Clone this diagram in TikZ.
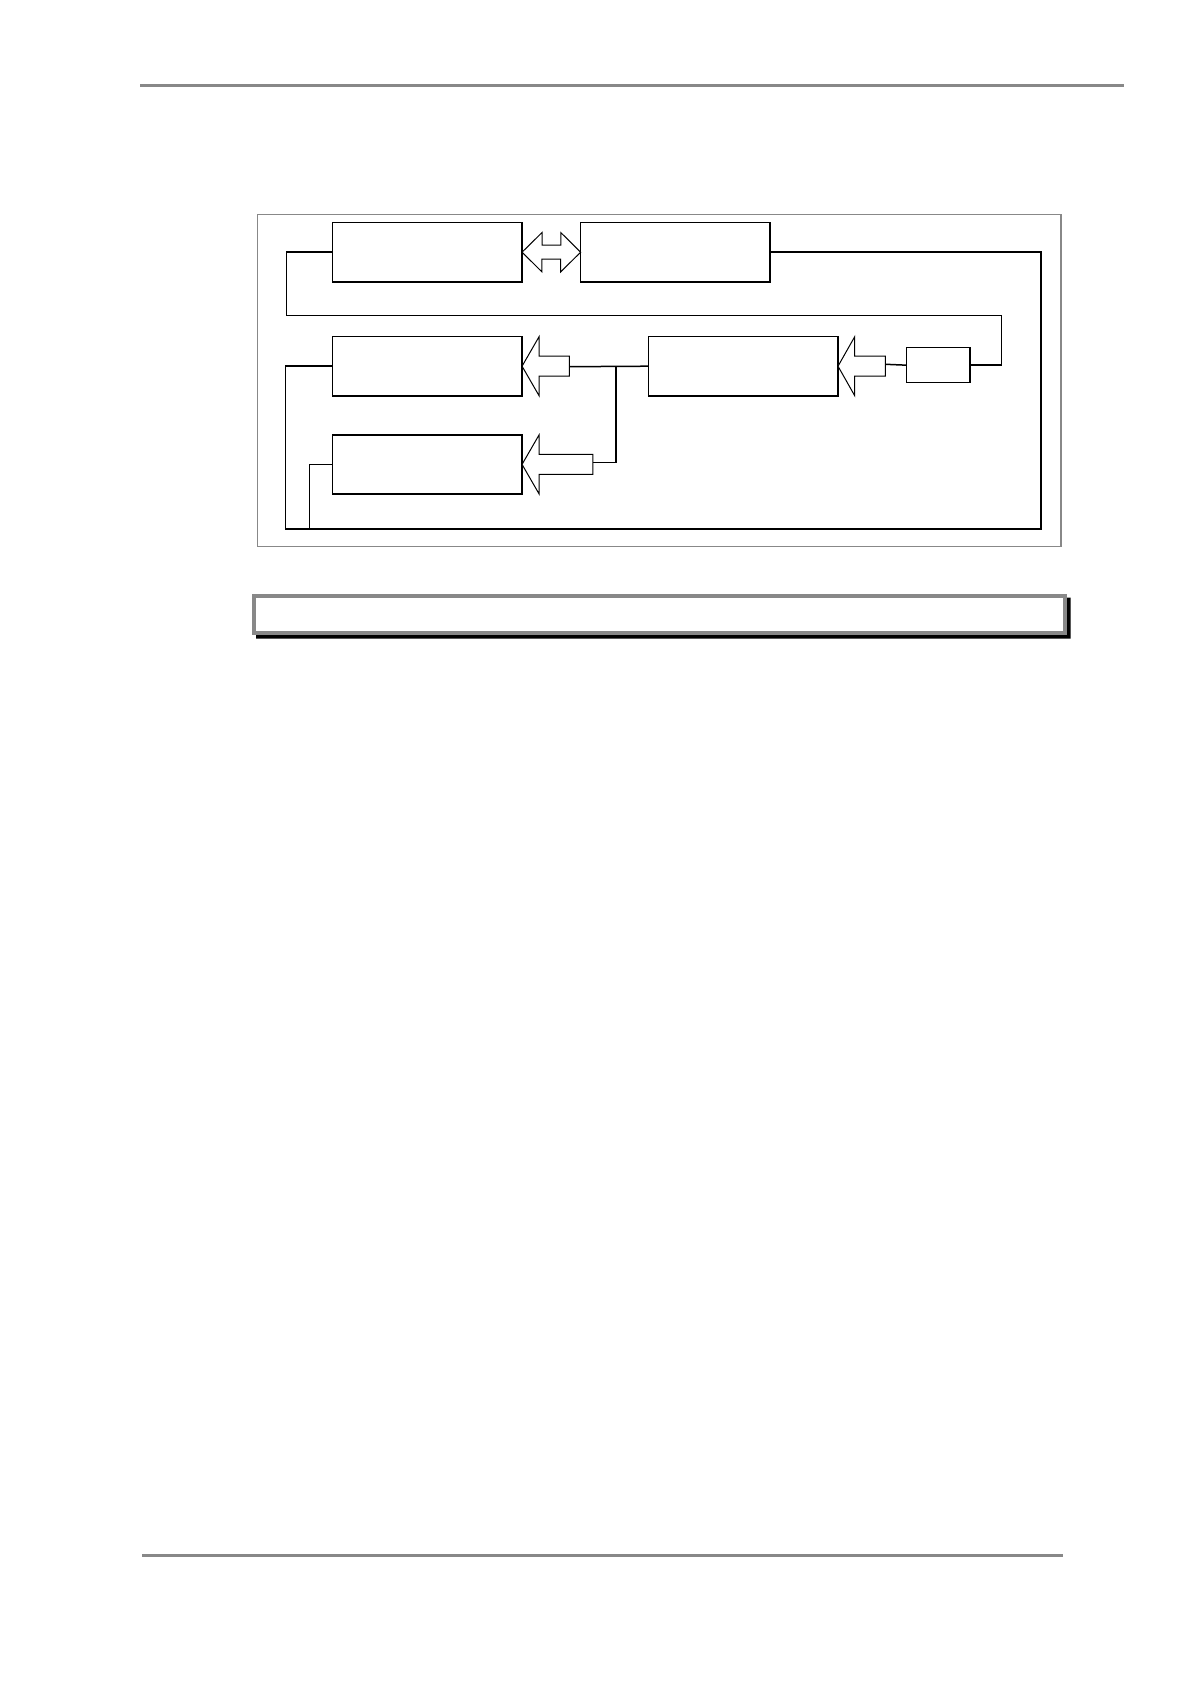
\documentclass[tikz,border=0pt]{standalone}
\usetikzlibrary{calc}
\definecolor{frameg}{HTML}{888888}
\begin{document}
\begin{tikzpicture}[x=0.5pt,y=-0.5pt,
  blk/.style={draw=black,line width=0.75pt,fill=white,inner sep=0pt,outer sep=0pt,
    minimum width=94.7pt,minimum height=29.6pt},
  smallblk/.style={blk,minimum width=31.7pt,minimum height=17.5pt},
  wire/.style={draw=black,line width=0.75pt},
  barrow/.style={draw=black,line width=0.5pt,fill=white,line join=miter},
  rule/.style={draw=frameg,line width=1.5pt}]
\useasboundingbox (0,0) rectangle (1191,1684);
% page rules
\draw[rule] (140,85.5) -- (1124,85.5);
\draw[rule] (142,1555.5) -- (1062.7,1555.5);
% outer frame
\draw[draw=frameg,line width=0.6pt] (257.3,214.7) rectangle (1061,546.7);
% blocks
\node[blk] (A) at (427.35,252.2) {};
\node[blk] (B) at (675.35,252.2) {};
\node[blk] (C) at (427.35,366.2) {};
\node[blk] (D) at (743.3,366.2) {};
\node[blk] (E) at (427.35,464.4) {};
\node[smallblk] (F) at (938.35,365.2) {};
% wires
\draw[wire] (A.west) -| (286.7,315.7) -- (1001.7,315.7) |- (F.east);
\draw[wire] (B.east) -| (1041,529) -- (285.7,529) |- (C.west);
\draw[wire] (E.west) -| (309.3,529);
\coordinate (J) at (616,366.7);
\draw[wire] (D.west) -- (569.3,366.7);
\draw[wire] (J) |- (592.7,462.7);
\draw[wire] (F.west) -- (885.7,364.3);
% block arrows
\draw[barrow] (C.east) -- ++(17,-29.5) -- ++(0,19.5) -- ++(30.3,0) -- ++(0,20) -- ++(-30.3,0) -- ++(0,19.5) -- cycle;
\draw[barrow] (E.east) -- ++(17,-29.5) -- ++(0,19.5) -- ++(53.7,0) -- ++(0,20) -- ++(-53.7,0) -- ++(0,19.5) -- cycle;
\draw[barrow] (D.east) -- ++(16.7,-29.5) -- ++(0,19.5) -- ++(30.7,0) -- ++(0,20) -- ++(-30.7,0) -- ++(0,19.5) -- cycle;
\draw[barrow] (A.east) -- ++(20,-19.7) -- ++(0,12.7) -- ++(18.7,0) -- ++(0,-12.7) -- (B.west) -- ++(-20,19.7) -- ++(0,-12.7) -- ++(-18.7,0) -- ++(0,12.7) -- cycle;
% caption box with shadow
\fill[black] (1066.7,597.7) -- (1070.7,597.7) -- (1070.7,638.7) -- (256,638.7) -- (256,634.7) -- (1066.7,634.7) -- cycle;
\draw[draw=frameg,line width=2pt] (254,596.3) rectangle (1064.7,632.7);
\end{tikzpicture}
\end{document}
